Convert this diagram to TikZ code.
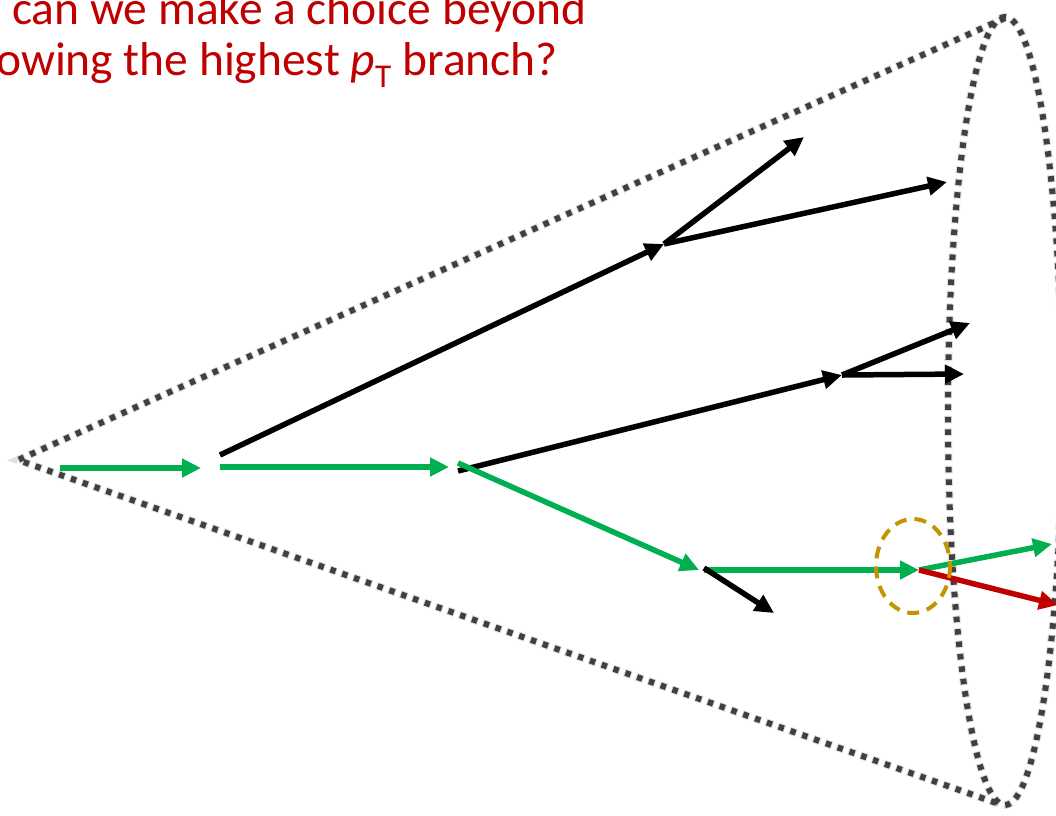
\documentclass[tikz,border=0pt]{standalone}
\usepackage{fontspec}
\setmainfont{Carlito}
\usetikzlibrary{arrows.meta}
\definecolor{jetgreen}{HTML}{00B050}
\definecolor{jetred}{HTML}{C00000}
\definecolor{groomgold}{HTML}{C39300}
\begin{document}
\begin{tikzpicture}[x=1pt,y=-1pt,
  branch/.style={line width=5.5pt,-{Triangle[length=19pt,width=18pt]}},
  conedots/.style={line width=6pt,black!75,dash pattern=on 5.5pt off 7pt},
  conehaze/.style={line width=8pt,black,opacity=0.12,dash pattern=on 7.5pt off 5pt,dash phase=1pt},
  caption/.style={font=\fontsize{47.5}{57}\selectfont,text=jetred,anchor=base west,inner sep=0pt}]
\useasboundingbox (0,0) rectangle (1056,815);
\clip (0,0) rectangle (1056,815);

% jet cone, drawn as soft dotted outlines
\coordinate (apex) at (18,460);
\coordinate (rimtop) at (1005,18);
\coordinate (rimbot) at (1002,805);
\draw[conehaze] (rimtop) -- (apex) -- (rimbot);
\draw[conehaze] (1005,411) ellipse [x radius=57, y radius=394];
\draw[conedots] (rimtop) -- (apex) -- (rimbot);
\draw[conedots] (1005,411) ellipse [x radius=57, y radius=394];

% splitting points
\coordinate (s0) at (60,468);
\coordinate (s1e) at (201,468);
\coordinate (s1) at (220,467);
\coordinate (s1b) at (220,455);
\coordinate (s2e) at (449,467);
\coordinate (s2) at (458,467);
\coordinate (a) at (664,244);
\coordinate (aL) at (804,137);
\coordinate (aR) at (947,182);
\coordinate (b) at (842,375);
\coordinate (bL) at (970,323);
\coordinate (bR) at (964,374);
\coordinate (c) at (699,570);
\coordinate (c1) at (704,570);
\coordinate (cs) at (774,613);
\coordinate (d) at (919,570);
\coordinate (dG) at (1052,544);
\coordinate (dR) at (1058,605);

% hardest branch (green) and soft branches (black)
\draw[branch,jetgreen] (s0) -- (s1e);
\draw[branch,jetgreen] (s1) -- (s2e);
\draw[branch,black] (s1b) -- (a);
\draw[branch,black] (a) -- (aL);
\draw[branch,black] (a) -- (aR);
\draw[branch,black] ([yshift=-4pt]s2) -- (b);
\draw[branch,black] (b) -- (bL);
\draw[branch,black] (b) -- (bR);
\draw[branch,jetgreen] ([yshift=4pt]s2) -- (c);
\draw[branch,jetgreen] (c1) -- (d);
\draw[branch,black] ([yshift=2pt]c1) -- (cs);
\draw[branch,jetgreen] (d) -- (dG);
\draw[branch,jetred] (d) -- (dR);

% highlighted splitting
\draw[groomgold,line width=4pt,dash pattern=on 12pt off 8pt] (913,566) ellipse [x radius=37, y radius=47];

% question
\node[caption] (q1) at (12,24) {can we make a choice beyond};
\node[caption] (q2) at (-4,75) {owing the highest \textit{p}\textsubscript{T} branch?};
\end{tikzpicture}
\end{document}
